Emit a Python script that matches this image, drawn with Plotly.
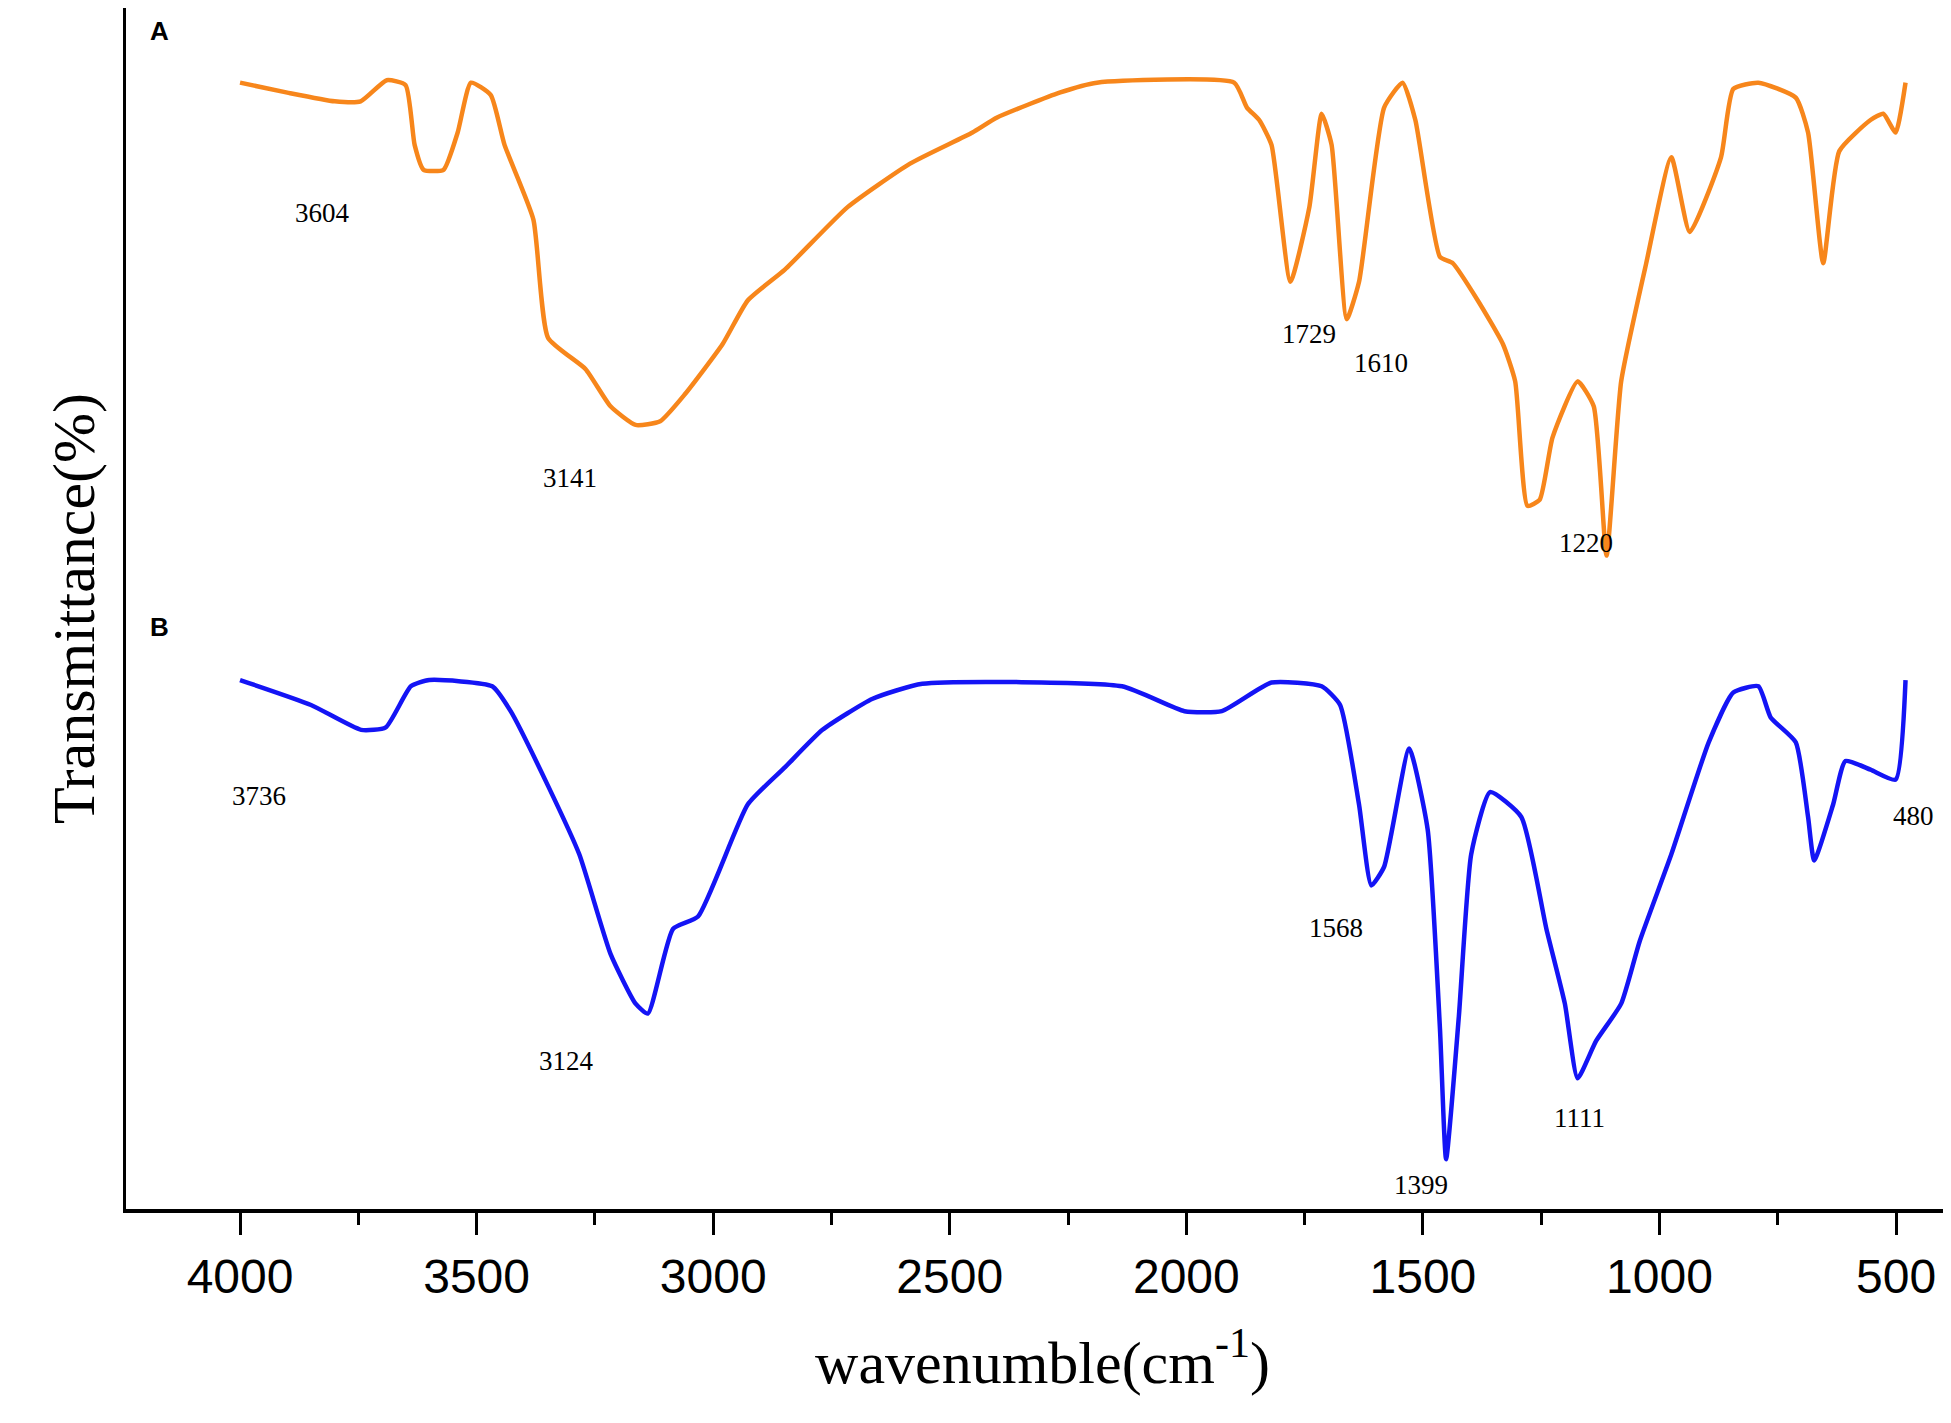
import plotly.graph_objects as go

# FTIR spectra, transmittance in arbitrary units
wn_a = [4000, 3900, 3800, 3745, 3690, 3650, 3631, 3612, 3570, 3540, 3512, 3470, 3441, 3380, 3349,
        3270, 3217, 3164, 3112, 3059, 2980, 2927, 2848, 2716, 2584, 2452, 2400, 2268, 2189, 1899,
        1872, 1846, 1820, 1780, 1740, 1714, 1693, 1661, 1635, 1582, 1543, 1516, 1464, 1437, 1384,
        1331, 1305, 1279, 1253, 1226, 1173, 1139, 1112, 1081, 1028, 975, 936, 870, 844, 791, 712,
        686, 654, 620, 554, 527, 501, 480]
tr_a = [940, 932, 925, 925, 942, 938, 890, 870, 870, 900, 940, 930, 890, 830, 735,
        710, 680, 665, 668, 690, 730, 765, 790, 840, 875, 900, 912, 932, 940, 940,
        920, 910, 890, 780, 840, 915, 890, 750, 780, 920, 940, 910, 800, 795, 765,
        730, 700, 600, 605, 655, 700, 680, 560, 700, 795, 880, 820, 880, 935, 940, 928,
        900, 795, 885, 910, 915, 900, 940]

wn_b = [4000, 3850, 3744, 3692, 3639, 3600, 3467, 3428, 3349, 3283, 3217, 3164, 3138, 3085, 3032,
        2927, 2848, 2769, 2663, 2558, 2136, 2004, 1925, 1820, 1714, 1675, 1635, 1609, 1582, 1529,
        1490, 1464, 1451, 1424, 1398, 1358, 1292, 1239, 1200, 1173, 1134, 1081, 1042, 975, 896,
        844, 791, 765, 712, 686, 673, 633, 607, 554, 501, 480]
tr_b = [460, 440, 420, 422, 455, 460, 455, 435, 375, 320, 240, 200, 192, 260, 270,
        360, 390, 420, 445, 457, 455, 435, 435, 458, 455, 440, 360, 295, 310, 405,
        340, 180, 75, 190, 320, 370, 350, 260, 200, 140, 170, 200, 250, 320, 410,
        450, 455, 430, 410, 350, 315, 360, 395, 388, 380, 460]

peak_labels_a = ["3604", "3141", "1729", "1610", "1220"]
peak_x_a = [3825, 3302, 1741, 1588, 1156]
peak_y_a = [835, 622, 738, 715, 570]
peak_labels_b = ["3736", "3124", "1568", "1399", "1111"]
peak_x_b = [3959, 3311, 1683, 1504, 1169]
peak_y_b = [367, 154, 261, 54, 108]
extra_labels = ["480"]
extra_x = [464]
extra_y = [351]

fig = go.Figure()
fig.add_trace(go.Scatter(x=wn_a, y=tr_a, mode="lines", showlegend=False,
                         line=dict(color="#f7861b", width=4.5, shape="spline", smoothing=0.5)))
fig.add_trace(go.Scatter(x=wn_b, y=tr_b, mode="lines", showlegend=False,
                         line=dict(color="#1414f5", width=4.5, shape="spline", smoothing=0.5)))

serif = "Liberation Serif, Times New Roman, serif"
for txt, x, y in zip(peak_labels_a + peak_labels_b + extra_labels,
                     peak_x_a + peak_x_b + extra_x, peak_y_a + peak_y_b + extra_y):
    fig.add_annotation(x=x, y=y, text=txt, showarrow=False,
                       font=dict(family=serif, size=27, color="black"))

for txt, yp in [("A", 0.995), ("B", 0.485)]:
    fig.add_annotation(xref="paper", yref="paper", x=0.012, y=yp, text=f"<b>{txt}</b>",
                       showarrow=False, xanchor="left",
                       font=dict(family="Liberation Sans, Arial", size=26, color="black"))

fig.update_layout(
    width=1951, height=1423,
    plot_bgcolor="white", paper_bgcolor="white",
    margin=dict(l=118, r=0, t=0, b=222),
    xaxis=dict(
        range=[4241, 367], tickvals=[4000, 3500, 3000, 2500, 2000, 1500, 1000, 500],
        ticks="outside", ticklen=22, tickwidth=3, tickcolor="black",
        minor=dict(dtick=250, tick0=0, ticks="outside", ticklen=12, tickwidth=3, tickcolor="black"),
        showline=True, linewidth=4, linecolor="black", showgrid=False, zeroline=False,
        tickfont=dict(family="Liberation Sans Narrow, Liberation Sans, Arial", size=48, color="black"),
        title=dict(text="wavenumble(cm<sup>-1</sup>)", standoff=40,
                   font=dict(family=serif, size=60, color="black")),
    ),
    yaxis=dict(
        range=[35, 1000], showticklabels=False, ticks="", showgrid=False, zeroline=False,
        showline=True, linewidth=3, linecolor="black",
        title=dict(text="Transmittance(%)", standoff=10,
                   font=dict(family=serif, size=60, color="black")),
    ),
)

fig.write_html("out.html")
